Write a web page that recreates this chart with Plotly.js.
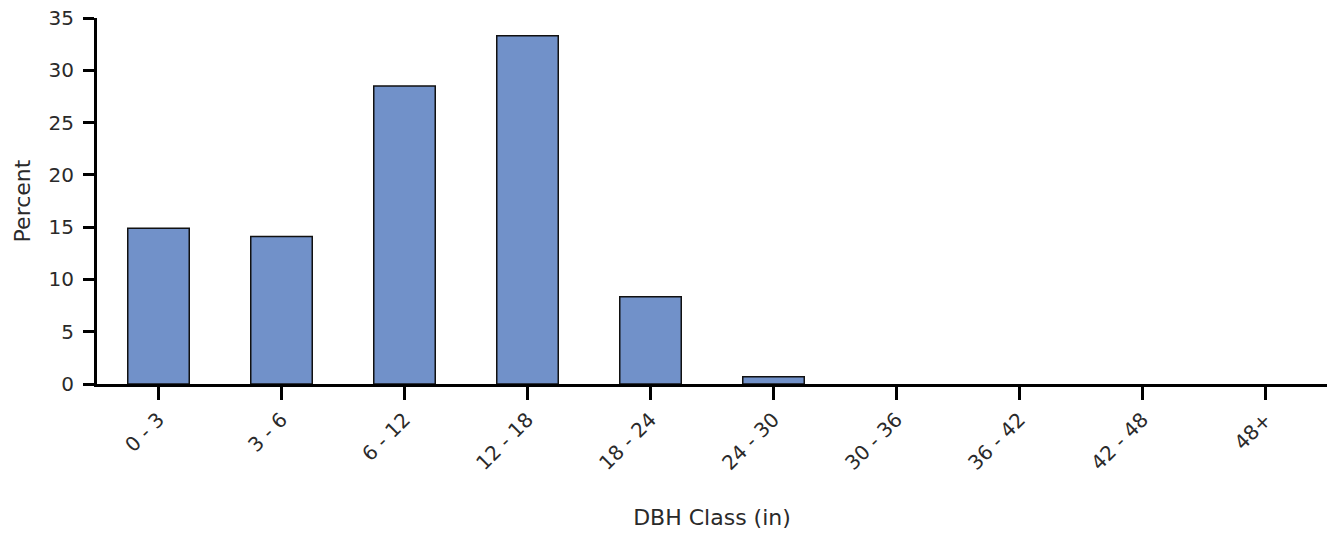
<!DOCTYPE html>
<html>
<head>
<meta charset="utf-8">
<script src="https://cdn.plot.ly/plotly-3.0.1.min.js"></script>
<style>
html,body{margin:0;padding:0;background:#fff;}
#chart{width:1332px;height:535px;}
</style>
</head>
<body>
<div id="chart"></div>
<script>
var categories = ["0 - 3", "3 - 6", "6 - 12", "12 - 18", "18 - 24", "24 - 30", "30 - 36", "36 - 42", "42 - 48", "48+"];
var percentValues = [14.9, 14.1, 28.5, 33.3, 8.35, 0.7, 0, 0, 0, 0];
var yTickValues = [0, 5, 10, 15, 20, 25, 30, 35];

var trace = {
  type: "bar",
  x: categories,
  y: percentValues,
  marker: {
    color: "#7191C9",
    line: {color: "#111111", width: percentValues.map(function (v) { return v > 0 ? 1.5 : 0; })}
  },
  hoverinfo: "x+y"
};

var fontFam = "DejaVu Sans, sans-serif";
var layout = {
  width: 1332, height: 535,
  margin: {l: 97, r: 5, t: 18, b: 151},
  paper_bgcolor: "#ffffff",
  plot_bgcolor: "#ffffff",
  bargap: 0.5,
  showlegend: false,
  font: {family: fontFam, color: "#2a2a2a", size: 20},
  xaxis: {
    type: "category",
    range: [-0.5, 9.5],
    showline: true, linecolor: "#000000", linewidth: 3,
    ticks: "outside", ticklen: 13, tickwidth: 3, tickcolor: "#000000",
    tickangle: -45,
    tickfont: {family: fontFam, size: 20, color: "#2a2a2a"},
    showgrid: false, zeroline: false,
    title: {text: "DBH Class (in)", font: {family: fontFam, size: 22, color: "#2a2a2a"}, standoff: 36}
  },
  yaxis: {
    range: [0, 35],
    tickvals: yTickValues,
    showline: true, linecolor: "#000000", linewidth: 3,
    ticks: "outside", ticklen: 11, tickwidth: 3, tickcolor: "#000000",
    ticklabelstandoff: 5,
    tickfont: {family: fontFam, size: 20, color: "#2a2a2a"},
    showgrid: false, zeroline: false,
    title: {text: "Percent", font: {family: fontFam, size: 22, color: "#2a2a2a"}, standoff: 12}
  }
};

Plotly.newPlot("chart", [trace], layout, {displayModeBar: false, staticPlot: true});
</script>
</body>
</html>
